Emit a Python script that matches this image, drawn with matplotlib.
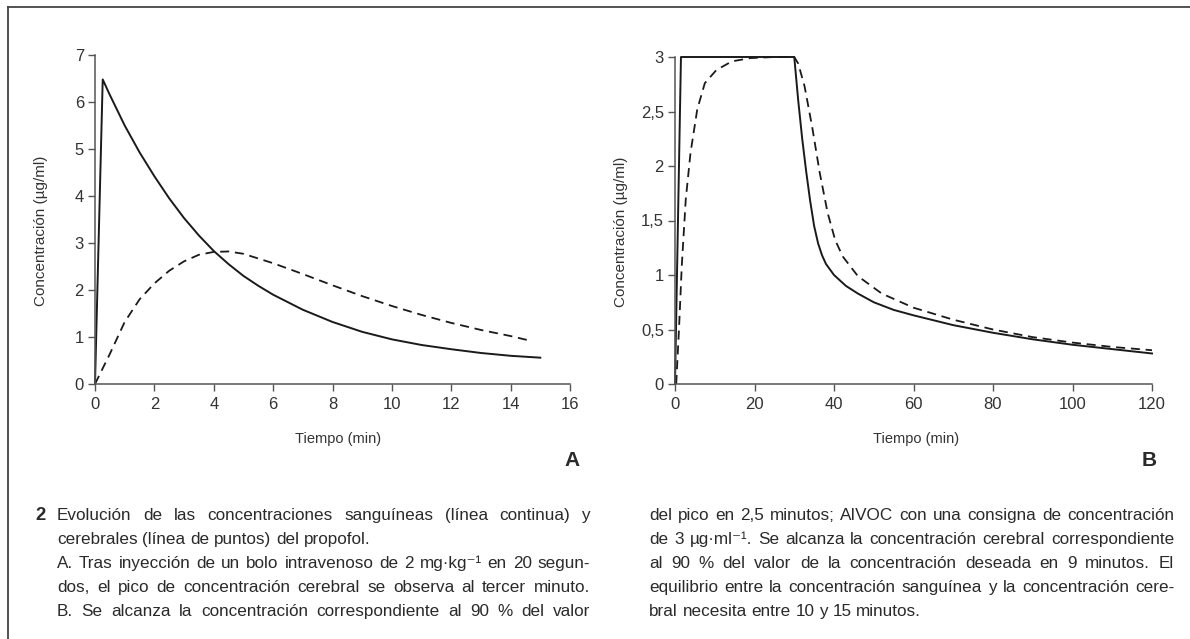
import matplotlib.pyplot as plt
from matplotlib.lines import Line2D

# Panel A: bolus of 2 mg/kg in 20 s
tA_blood = [0, 0.26, 0.5, 1, 1.5, 2, 2.5, 3, 3.5, 4, 4.5, 5, 5.5, 6, 7, 8, 9, 10, 11, 12, 13, 14, 15]
cA_blood = [0, 6.48, 6.15, 5.50, 4.93, 4.42, 3.95, 3.53, 3.16, 2.83, 2.55, 2.30, 2.09, 1.90, 1.58, 1.32, 1.11, 0.95, 0.83, 0.74, 0.66, 0.60, 0.56]
tA_brain = [0, 0.5, 1, 1.5, 2, 2.5, 3, 3.5, 4, 4.5, 5, 6, 7, 8, 9, 10, 11, 12, 13, 14, 14.6]
cA_brain = [0, 0.64, 1.32, 1.80, 2.14, 2.41, 2.61, 2.75, 2.81, 2.82, 2.77, 2.57, 2.34, 2.10, 1.87, 1.66, 1.47, 1.30, 1.15, 1.02, 0.93]

# Panel B: AIVOC, target 3 ug/ml
tB_blood = [0, 1.5, 30, 31, 32, 33, 34, 35, 36, 37, 38, 40, 43, 46, 50, 55, 60, 70, 80, 90, 100, 110, 120]
cB_blood = [0, 3, 3, 2.6, 2.25, 1.95, 1.68, 1.45, 1.29, 1.18, 1.10, 1.00, 0.90, 0.83, 0.75, 0.68, 0.63, 0.54, 0.47, 0.41, 0.36, 0.32, 0.28]
tB_brain = [0.3, 1, 1.7, 2.7, 3.9, 5.6, 7.5, 10.4, 14.3, 19, 25, 30, 31, 32.6, 34.5, 36.4, 38.4, 40.3, 42.2, 46, 52, 60, 70, 80, 90, 100, 110, 120]
cB_brain = [0, 0.5, 1.08, 1.69, 2.12, 2.52, 2.76, 2.88, 2.96, 2.99, 3.0, 3.0, 2.94, 2.73, 2.36, 1.94, 1.57, 1.32, 1.17, 0.99, 0.83, 0.70, 0.59, 0.50, 0.43, 0.38, 0.34, 0.31]

yticksB = [0, 0.5, 1, 1.5, 2, 2.5, 3]
yticklabelsB = ["0", "0,5", "1", "1,5", "2", "2,5", "3"]

caption_left = [
    ("Evolución de las concentraciones sanguíneas (línea continua) y", True),
    ("cerebrales (línea de puntos) del propofol.", False),
    ("A. Tras inyección de un bolo intravenoso de 2 mg·kg⁻¹ en 20 segun-", True),
    ("dos, el pico de concentración cerebral se observa al tercer minuto.", True),
    ("B. Se alcanza la concentración correspondiente al 90 % del valor", True),
]
caption_right = [
    ("del pico en 2,5 minutos; AIVOC con una consigna de concentración", True),
    ("de 3 µg·ml⁻¹. Se alcanza la concentración cerebral correspondiente", True),
    ("al 90 % del valor de la concentración deseada en 9 minutos. El", True),
    ("equilibrio entre la concentración sanguínea y la concentración cere-", True),
    ("bral necesita entre 10 y 15 minutos.", False),
]

FONT = ["Liberation Sans", "DejaVu Sans"]
plt.rcParams["font.family"] = FONT
INK = "#2a2a2a"

W, H = 1190, 639
fig = plt.figure(figsize=(W / 100, H / 100), dpi=100)


def fx(px):
    return px / W


def fy(py):
    return 1 - py / H


def style_axes(ax):
    for s in ["top", "right"]:
        ax.spines[s].set_visible(False)
    for s in ["left", "bottom"]:
        ax.spines[s].set_color("#555555")
        ax.spines[s].set_linewidth(1.1)
    ax.tick_params(direction="out", length=5, width=1, color="#555555",
                   labelsize=12, labelcolor="#333333", pad=3)
    ax.tick_params(axis="x", pad=4.5)


axA = fig.add_axes([fx(95), fy(384), fx(570) - fx(95), fy(55) - fy(384)])
axA.plot(tA_blood, cA_blood, color="#1a1a1a", lw=1.4, clip_on=False)
axA.plot(tA_brain, cA_brain, color="#1a1a1a", lw=1.3, dashes=(5, 3.2), clip_on=False)
axA.set_xlim(0, 16)
axA.set_ylim(0, 7)
axA.set_xticks(range(0, 17, 2))
axA.set_yticks(range(0, 8))
style_axes(axA)
axA.set_xlabel("Tiempo (min)", fontsize=10.5, color="#333333")
axA.xaxis.set_label_coords((338 - 95) / 475, -(432 - 384) / 329)
axA.set_ylabel("Concentración (µg/ml)", fontsize=11, color="#333333")
axA.yaxis.set_label_coords((48 - 95) / 475, (384 - 231) / 329)

axB = fig.add_axes([fx(675), fy(384), fx(1152) - fx(675), fy(57) - fy(384)])
axB.plot(tB_blood, cB_blood, color="#1a1a1a", lw=1.4, clip_on=False)
axB.plot(tB_brain, cB_brain, color="#1a1a1a", lw=1.3, dashes=(5, 3.2), clip_on=False)
axB.set_xlim(0, 120)
axB.set_ylim(0, 3)
axB.set_xticks(range(0, 121, 20))
axB.set_yticks(yticksB)
axB.set_yticklabels(yticklabelsB)
style_axes(axB)
axB.set_xlabel("Tiempo (min)", fontsize=10.5, color="#333333")
axB.xaxis.set_label_coords((916 - 675) / 477, -(432 - 384) / 327)
axB.set_ylabel("Concentración (µg/ml)", fontsize=11, color="#333333")
axB.yaxis.set_label_coords((628 - 675) / 477, (384 - 232) / 327)

fig.text(fx(572), fy(460), "A", fontsize=15, fontweight="bold", color=INK,
         ha="center", va="center")
fig.text(fx(1149), fy(460), "B", fontsize=15, fontweight="bold", color=INK,
         ha="center", va="center")

# frame around the figure (left and top edges)
frame_kw = dict(transform=fig.transFigure, color="#444444", lw=1.3)
fig.add_artist(Line2D([fx(8), fx(8)], [0, fy(7)], **frame_kw))
fig.add_artist(Line2D([fx(8), 1], [fy(7), fy(7)], **frame_kw))

# caption, justified like the printed text
renderer = fig.canvas.get_renderer()


def text_width(s, size):
    t = fig.text(0, 0, s, fontsize=size)
    w = t.get_window_extent(renderer).width
    t.remove()
    return w


col_left = (57, 590)
col_right = (649, 1174)
baseline_y = [520, 544, 568, 592, 616]

# pick a size so the tightest line still fits its column
size = 12.5
widest = max(text_width(s, size) / (c[1] - c[0])
             for lines, c in [(caption_left, col_left), (caption_right, col_right)]
             for s, j in lines if j)
if widest > 0.985:
    size = size * 0.985 / widest

space = text_width("a a", size) - text_width("aa", size)


def draw_lines(lines, col):
    x0, x1 = col
    for (s, just), y in zip(lines, baseline_y):
        words = s.split(" ")
        widths = [text_width(w, size) for w in words]
        gap = space
        if just and len(words) > 1:
            gap = (x1 - x0 - sum(widths)) / (len(words) - 1)
        x = x0
        for w, wd in zip(words, widths):
            fig.text(fx(x), fy(y), w, fontsize=size, color=INK, va="baseline")
            x += wd + gap


draw_lines(caption_left, col_left)
draw_lines(caption_right, col_right)
fig.text(fx(40), fy(baseline_y[0]), "2", fontsize=size + 1, fontweight="bold",
         color=INK, ha="center", va="baseline")

fig.savefig("out.png", dpi=100)
